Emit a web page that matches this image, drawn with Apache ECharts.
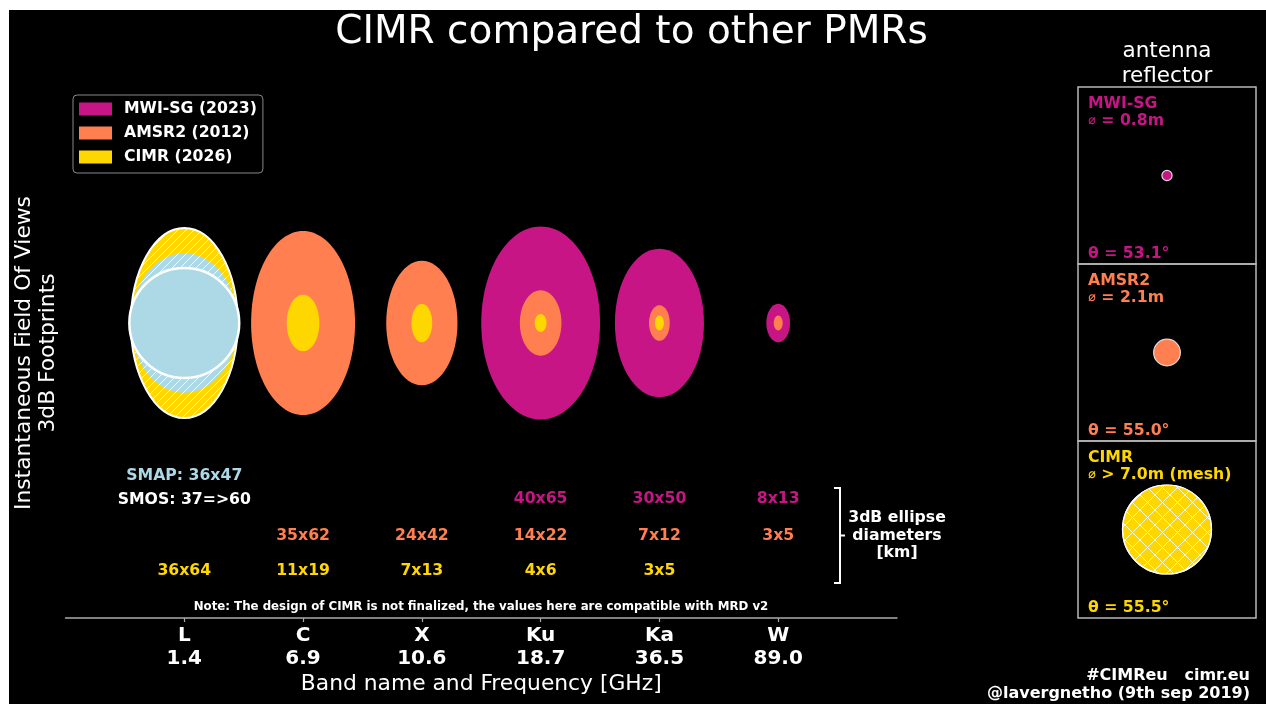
<!DOCTYPE html>
<html><head><meta charset="utf-8">
<script src="https://cdn.jsdelivr.net/npm/echarts@6/dist/echarts.min.js"></script>
<style>html,body{margin:0;padding:0;background:#fff;} #c{position:absolute;left:0;top:0;width:1266px;height:704px;}</style>
</head><body><div id="c"></div>
<script>
// ---------------- data ----------------
const bands = ['L', 'C', 'X', 'Ku', 'Ka', 'W'];
const freqs = ['1.4', '6.9', '10.6', '18.7', '36.5', '89.0'];
const bandPos = [0, 40, 80, 120, 160, 200];          // km along the footprint axis
const mwiW  = [null, null, null, 40, 30, 8];
const mwiH  = [null, null, null, 65, 50, 13];
const amsrW = [null, 35, 24, 14, 7, 3];
const amsrH = [null, 62, 42, 22, 12, 5];
const cimrW = [36, 11, 7, 4, 3, null];
const cimrH = [64, 19, 13, 6, 5, null];
const smapSize = [36, 47];
const smosSize = [37, 37];
const smosText = '37=>60';
const instruments = ['MWI-SG', 'AMSR2', 'CIMR'];
const launchYears = [2023, 2012, 2026];
const antennaDiam = [0.8, 2.1, 7.0];
const antennaRel = ['=', '=', '>'];
const antennaNote = ['', '', ' (mesh)'];
const incidence = ['53.1', '55.0', '55.5'];

// ---------------- style ----------------
const FONT = 'DejaVu Sans';
const BS = 15.7; // bold label size
const C_MWI = '#C71585', C_AMSR = '#FF7F50', C_CIMR = '#FFD700', C_SMAP = '#ADD8E6';
const instColors = [C_MWI, C_AMSR, C_CIMR];
const MAIN = {left: 65.5, right: 897, top: 88, bottom: 618, cy: 323};
const XMIN = -40, XMAX = 240;
const K = (MAIN.right - MAIN.left) / (XMAX - XMIN);
const YMIN = -(MAIN.bottom - MAIN.cy) / K, YMAX = (MAIN.cy - MAIN.top) / K;
const ROW_Y = {MWI: 499, AMSR: 535.5, CIMR: 570.5, SMAP: 476, SMOS: 500};
const PANEL = {left: 1078, width: 178, height: 177, tops: [87, 264, 441]};
const PR = 7; // panel half-range in metres

function hatchCanvas(size, both, color, lw) {
  const cv = document.createElement('canvas'); cv.width = size; cv.height = size;
  const g = cv.getContext('2d'); g.strokeStyle = color; g.lineWidth = lw;
  const seg = (a, b, c, d) => { g.beginPath(); g.moveTo(a, b); g.lineTo(c, d); g.stroke(); };
  for (const o of [-size, 0, size]) {
    seg(o, size, o + size, 0);
    if (both) seg(o, 0, o + size, size);
  }
  return cv;
}
const hatchL = {image: hatchCanvas(8, false, 'rgba(255,255,255,0.85)', 1), repeat: 'repeat'};
const hatchX = {image: hatchCanvas(15, true, 'rgba(255,255,255,0.9)', 1), repeat: 'repeat'};

function bandData(W, H) {
  const d = [];
  W.forEach((w, i) => { if (w != null) d.push([bandPos[i], w, H[i]]); });
  return d;
}
const boldFont = 'bold ' + BS + 'px "' + FONT + '"';

function ellipseSeries(name, W, H, color, rowY) {
  return {
    type: 'custom', name, xAxisIndex: 0, yAxisIndex: 0, silent: true,
    itemStyle: {color}, data: bandData(W, H),
    renderItem: (p, api) => {
      const c = api.coord([api.value(0), 0]);
      const s = api.size([api.value(1), api.value(2)]);
      return {type: 'group', children: [
        {type: 'ellipse', shape: {cx: c[0], cy: c[1], rx: s[0] / 2, ry: s[1] / 2}, style: {fill: color}},
        {type: 'text', x: c[0], y: rowY, style: {text: api.value(1) + 'x' + api.value(2), fill: color,
          font: boldFont, align: 'center', verticalAlign: 'middle'}}
      ]};
    }
  };
}

const series = [
  ellipseSeries('MWI-SG', mwiW, mwiH, C_MWI, ROW_Y.MWI),
  ellipseSeries('AMSR2', amsrW, amsrH, C_AMSR, ROW_Y.AMSR),
  ellipseSeries('CIMR', cimrW, cimrH, C_CIMR, ROW_Y.CIMR),
  { // SMAP footprint at L band
    type: 'custom', name: 'SMAP', silent: true, xAxisIndex: 0, yAxisIndex: 0,
    data: [[bandPos[0], smapSize[0], smapSize[1]]],
    renderItem: (p, api) => {
      const c = api.coord([api.value(0), 0]);
      const s = api.size([api.value(1), api.value(2)]);
      return {type: 'group', children: [
        {type: 'ellipse', shape: {cx: c[0], cy: c[1], rx: s[0] / 2, ry: s[1] / 2}, style: {fill: C_SMAP}},
        {type: 'text', x: c[0], y: ROW_Y.SMAP, style: {text: 'SMAP: ' + api.value(1) + 'x' + api.value(2),
          fill: C_SMAP, font: boldFont, align: 'center', verticalAlign: 'middle'}}
      ]};
    }
  },
  { // CIMR L-band hatch overlay
    type: 'custom', name: 'CIMR-L', silent: true, xAxisIndex: 0, yAxisIndex: 0,
    data: [[bandPos[0], cimrW[0], cimrH[0]]],
    renderItem: (p, api) => {
      const c = api.coord([api.value(0), 0]);
      const s = api.size([api.value(1), api.value(2)]);
      return {type: 'ellipse', shape: {cx: c[0], cy: c[1], rx: s[0] / 2, ry: s[1] / 2},
        style: {fill: hatchL, stroke: '#fff', lineWidth: 2}};
    }
  },
  { // SMOS footprint at L band
    type: 'custom', name: 'SMOS', silent: true, xAxisIndex: 0, yAxisIndex: 0,
    data: [[bandPos[0], smosSize[0], smosSize[1]]],
    renderItem: (p, api) => {
      const c = api.coord([api.value(0), 0]);
      const s = api.size([api.value(1), api.value(2)]);
      return {type: 'group', children: [
        {type: 'ellipse', shape: {cx: c[0], cy: c[1], rx: s[0] / 2, ry: s[1] / 2},
          style: {fill: C_SMAP, stroke: '#fff', lineWidth: 2.5}},
        {type: 'text', x: c[0], y: ROW_Y.SMOS, style: {text: 'SMOS: ' + smosText,
          fill: '#fff', font: boldFont, align: 'center', verticalAlign: 'middle'}}
      ]};
    }
  }
];

// antenna panels
instruments.forEach((name, i) => {
  series.push({
    type: 'custom', name: name + '-antenna', silent: true, xAxisIndex: i + 1, yAxisIndex: i + 1,
    data: [[0, 0, antennaDiam[i]]],
    renderItem: (p, api) => {
      const c = api.coord([api.value(0), api.value(1)]);
      const r = api.size([api.value(2), 0])[0] / 2;
      const kids = [{type: 'circle', shape: {cx: c[0], cy: c[1], r}, style: {fill: instColors[i], stroke: '#ddd', lineWidth: 1.2}}];
      if (i === 2) kids.push({type: 'circle', shape: {cx: c[0], cy: c[1], r}, style: {fill: hatchX, stroke: '#fff', lineWidth: 1.2}});
      return {type: 'group', children: kids};
    }
  });
});

const grids = [{left: MAIN.left, top: MAIN.top, width: MAIN.right - MAIN.left, height: MAIN.bottom - MAIN.top}];
const xAxes = [{
  gridIndex: 0, type: 'value', min: XMIN, max: XMAX,
  axisLine: {show: true, onZero: false, lineStyle: {color: '#aaa', width: 1.5}},
  axisTick: {show: true, customValues: bandPos, length: 4, lineStyle: {color: '#aaa', width: 1.2}},
  axisLabel: {customValues: bandPos, margin: 6,
    formatter: v => { const i = bandPos.indexOf(v); return i < 0 ? '' : '{a|' + bands[i] + '}\n{a|' + freqs[i] + '}'; },
    rich: {a: {color: '#fff', fontSize: 20, fontWeight: 'bold', fontFamily: FONT, lineHeight: 23, align: 'center'}}},
  splitLine: {show: false},
  name: 'Band name and Frequency [GHz]', nameLocation: 'middle', nameGap: 54,
  nameTextStyle: {color: '#fff', fontSize: 21.8, fontFamily: FONT}
}];
const yAxes = [{gridIndex: 0, type: 'value', min: YMIN, max: YMAX, show: false}];
PANEL.tops.forEach((t, i) => {
  grids.push({left: PANEL.left, top: t, width: PANEL.width, height: PANEL.height, show: true,
    borderColor: '#b8b8b8', borderWidth: 1.5, backgroundColor: 'transparent'});
  xAxes.push({gridIndex: i + 1, type: 'value', min: -PR, max: PR, show: false});
  const yr = PR * PANEL.height / PANEL.width;
  yAxes.push({gridIndex: i + 1, type: 'value', min: -yr, max: yr, show: false});
});

const txt = (x, y, text, o, rot) => ({type: 'text', x, y, z: 10, silent: true, rotation: rot || 0,
  style: Object.assign({text, fill: '#fff', fontFamily: FONT, fontSize: BS, fontWeight: 'bold', align: 'center', verticalAlign: 'middle'}, o || {})});

const graphics = [
  {type: 'rect', z: -100, silent: true, shape: {x: 9, y: 10, width: 1257, height: 694}, style: {fill: '#000'}},
  txt(631.5, 33, 'CIMR compared to other PMRs', {fontSize: 39, fontWeight: 'normal'}),
  txt(36.5, 353, 'Instantaneous Field Of Views\n3dB Footprints', {fontSize: 21.8, fontWeight: 'normal', lineHeight: 24}, Math.PI / 2),
  txt(1167, 63.5, 'antenna\nreflector', {fontSize: 21.5, fontWeight: 'normal', lineHeight: 25}),
  txt(481, 607, 'Note: The design of CIMR is not finalized, the values here are compatible with MRD v2', {fontSize: 11.8}),
  txt(897, 535.5, '3dB ellipse\ndiameters\n[km]', {lineHeight: 17.5}),
  {type: 'polyline', z: 10, silent: true, shape: {points: [[834, 488], [840, 488], [840, 583], [834, 583]]}, style: {stroke: '#fff', lineWidth: 2, fill: null}},
  {type: 'line', z: 10, silent: true, shape: {x1: 840, y1: 535.5, x2: 845, y2: 535.5}, style: {stroke: '#fff', lineWidth: 2}},
  txt(1250, 676, '#CIMReu   cimr.eu', {align: 'right', fontSize: 16}),
  txt(1250, 694, '@lavergnetho (9th sep 2019)', {align: 'right', fontSize: 16})
];
instruments.forEach((name, i) => {
  const t = PANEL.tops[i];
  graphics.push(txt(1088, t + 17, name, {align: 'left', fill: instColors[i]}));
  graphics.push({type: 'text', x: 1088, y: t + 34, z: 10, silent: true, style: {
    text: '{s|⌀}{n| ' + antennaRel[i] + ' ' + antennaDiam[i].toFixed(1) + 'm' + antennaNote[i] + '}',
    align: 'left', verticalAlign: 'middle',
    rich: {s: {fill: instColors[i], fontSize: 13, fontWeight: 'bold', fontFamily: FONT},
           n: {fill: instColors[i], fontSize: BS, fontWeight: 'bold', fontFamily: FONT}}}});
  graphics.push(txt(1088, t + 167, 'θ = ' + incidence[i] + '°', {align: 'left', fill: instColors[i]}));
});

const chart = echarts.init(document.getElementById('c'), null, {renderer: 'canvas'});
chart.setOption({
  backgroundColor: '#fff',
  animation: false,
  textStyle: {fontFamily: FONT},
  legend: {
    data: instruments, left: 73, top: 95, orient: 'vertical', icon: 'rect',
    itemWidth: 33, itemHeight: 13, itemGap: 8, padding: [6, 6, 8, 6],
    backgroundColor: '#000', borderColor: '#888', borderWidth: 1, borderRadius: 4,
    selectedMode: false,
    formatter: n => n + ' (' + launchYears[instruments.indexOf(n)] + ')',
    textStyle: {color: '#fff', fontWeight: 'bold', fontSize: BS, fontFamily: FONT, padding: [0, 0, 0, 7]}
  },
  grid: grids, xAxis: xAxes, yAxis: yAxes,
  series, graphic: {elements: graphics}
});
</script></body></html>
